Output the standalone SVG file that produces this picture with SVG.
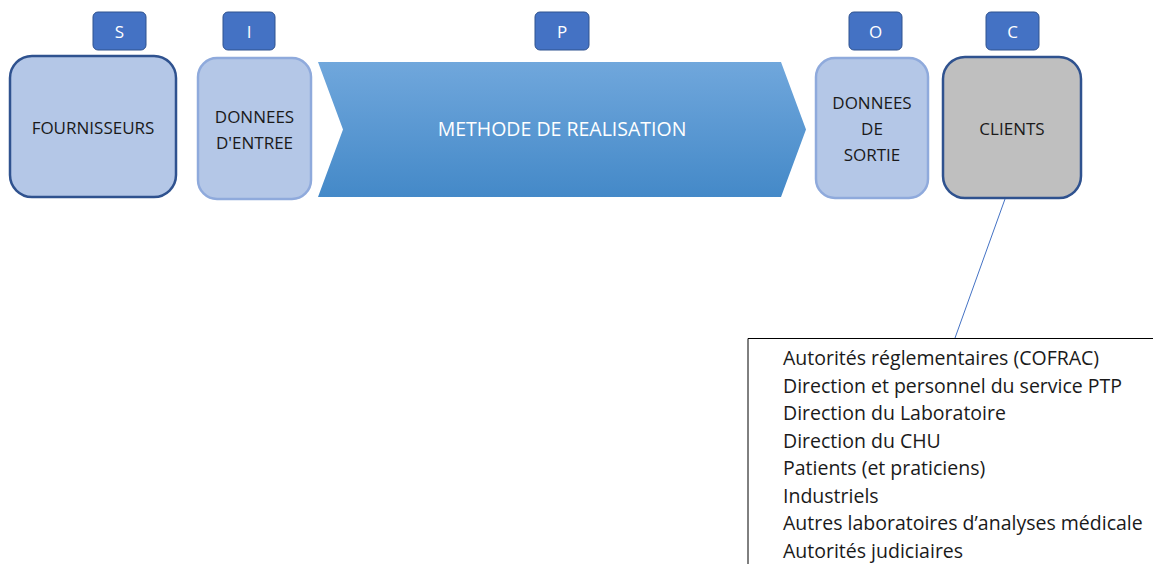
<svg xmlns="http://www.w3.org/2000/svg" width="1153" height="564" viewBox="0 0 1153 564">
  <style>
    .badge { fill: #4472C4; stroke: #2F528F; stroke-width: 1; }
    .badge-t { font-family: "Open Sans", "Liberation Sans", sans-serif; font-size: 17px; fill: #FFFFFF; text-anchor: middle; dominant-baseline: central; }
    .box-dark { fill: #B4C7E7; stroke: #2F528F; stroke-width: 2.5; }
    .box-light { fill: #B4C7E7; stroke: #8FAADC; stroke-width: 2.5; }
    .box-grey { fill: #BFBFBF; stroke: #2F528F; stroke-width: 2.5; }
    .label { font-family: "Open Sans", "Liberation Sans", sans-serif; font-size: 17px; fill: #1A1A1A; text-anchor: middle; }
    .list { font-family: "Open Sans", "Liberation Sans", sans-serif; font-size: 19.5px; fill: #1A1A1A; }
  </style>
  <defs>
    <linearGradient id="chevronFill" x1="0" y1="0" x2="0" y2="1">
      <stop offset="0" stop-color="#70A7DC"/>
      <stop offset="1" stop-color="#4489C8"/>
    </linearGradient>
  </defs>

  <!-- SIPOC letter badges -->
  <g id="badge-s"><rect class="badge" x="93" y="12" width="53" height="38" rx="5"/><text class="badge-t" x="119.5" y="31">S</text></g>
  <g id="badge-i"><rect class="badge" x="223" y="12" width="52" height="38" rx="5"/><text class="badge-t" x="249" y="31">I</text></g>
  <g id="badge-p"><rect class="badge" x="535" y="12" width="54" height="38" rx="5"/><text class="badge-t" x="562" y="31">P</text></g>
  <g id="badge-o"><rect class="badge" x="849" y="12" width="53" height="38" rx="5"/><text class="badge-t" x="875.5" y="31">O</text></g>
  <g id="badge-c"><rect class="badge" x="986" y="12" width="53" height="38" rx="5"/><text class="badge-t" x="1012.5" y="31">C</text></g>

  <!-- Process row -->
  <g id="fournisseurs">
    <rect class="box-dark" x="10" y="56" width="166" height="141" rx="22"/>
    <text class="label" x="93" y="134">FOURNISSEURS</text>
  </g>
  <g id="donnees-entree">
    <rect class="box-light" x="198" y="58" width="113" height="141" rx="19"/>
    <text class="label" x="254.5" y="123">DONNEES</text>
    <text class="label" x="254.5" y="149">D'ENTREE</text>
  </g>
  <g id="methode">
    <polygon points="318,62 781,62 806,129.5 781,197 318,197 343,129.5" fill="url(#chevronFill)"/>
    <text class="label" x="562" y="136" style="fill:#FFFFFF;font-size:19.5px">METHODE DE REALISATION</text>
  </g>
  <g id="donnees-sortie">
    <rect class="box-light" x="816" y="58" width="112" height="140" rx="19"/>
    <text class="label" x="872" y="109">DONNEES</text>
    <text class="label" x="872" y="135">DE</text>
    <text class="label" x="872" y="161">SORTIE</text>
  </g>
  <g id="clients">
    <rect class="box-grey" x="943" y="57" width="138" height="141" rx="22"/>
    <text class="label" x="1012" y="135">CLIENTS</text>
  </g>

  <!-- Connectors -->
  <g id="connectors">
    <line x1="1005" y1="199" x2="955" y2="338" stroke="#4472C4" stroke-width="1"/>
  </g>

  <!-- Client list -->
  <g id="client-list">
    <polyline points="748,564 748,338.5 1153,338.5" fill="none" stroke="#000000" stroke-width="1"/>
    <text class="list" x="783" y="365">Autorités réglementaires (COFRAC)</text>
    <text class="list" x="783" y="392.5">Direction et personnel du service PTP</text>
    <text class="list" x="783" y="420">Direction du Laboratoire</text>
    <text class="list" x="783" y="447.5">Direction du CHU</text>
    <text class="list" x="783" y="475">Patients (et praticiens)</text>
    <text class="list" x="783" y="502.5">Industriels</text>
    <text class="list" x="783" y="530">Autres laboratoires d’analyses médicale</text>
    <text class="list" x="783" y="557.5">Autorités judiciaires</text>
  </g>
</svg>
